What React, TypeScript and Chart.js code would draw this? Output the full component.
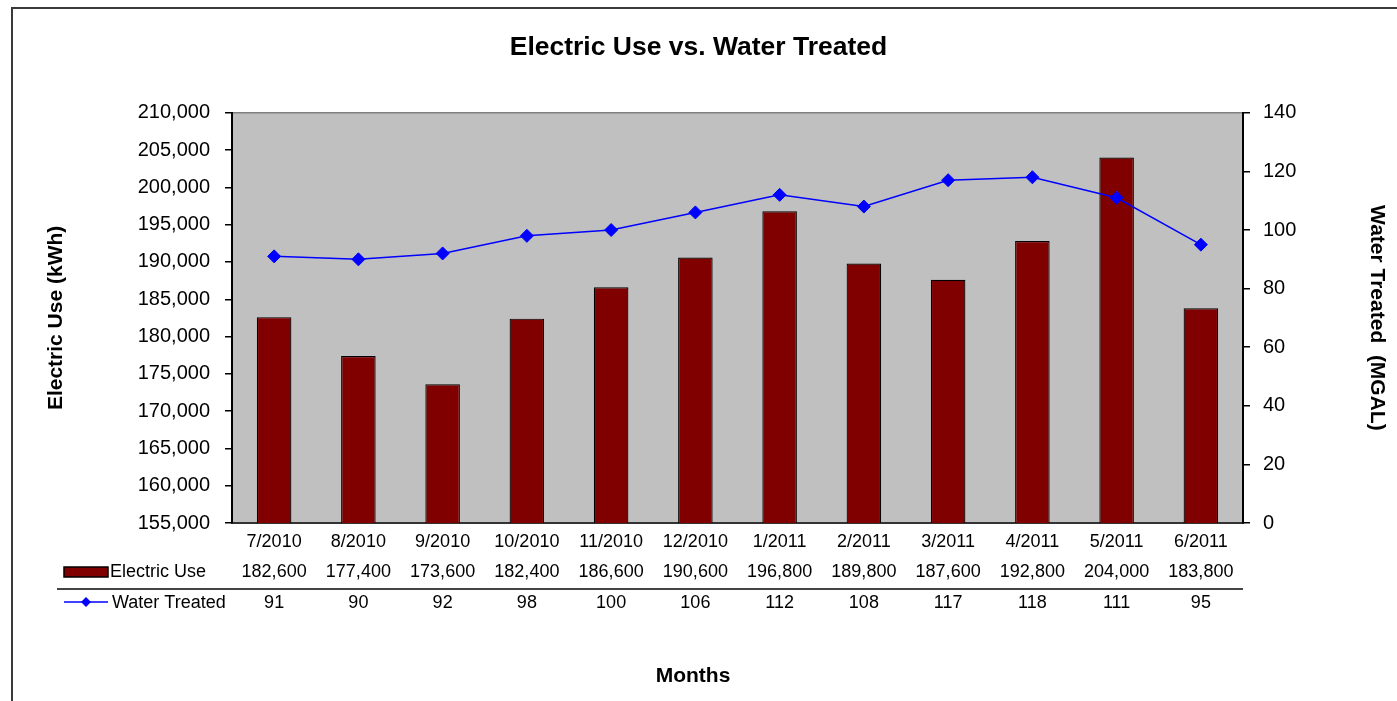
import React, { useEffect, useRef } from 'react';
import { Chart, registerables } from 'chart.js';

Chart.register(...registerables);

const months = ['7/2010', '8/2010', '9/2010', '10/2010', '11/2010', '12/2010', '1/2011', '2/2011', '3/2011', '4/2011', '5/2011', '6/2011'];
const electricUse = [182600, 177400, 173600, 182400, 186600, 190600, 196800, 189800, 187600, 192800, 204000, 183800];
const waterTreated = [91, 90, 92, 98, 100, 106, 112, 108, 117, 118, 111, 95];
const electricAxis = { min: 155000, max: 210000, step: 5000 };
const waterAxis = { min: 0, max: 140, step: 20 };
const xAxisTitle = 'Months';

const FONT = '"Liberation Sans", Arial, sans-serif';
const fmt = (v: number) => v.toLocaleString('en-US');

const framePlugin = {
  id: 'frame',
  beforeDraw(chart: any) {
    const { ctx, chartArea, width, height } = chart;
    ctx.save();
    ctx.fillStyle = '#ffffff';
    ctx.fillRect(0, 0, width, height);
    ctx.strokeStyle = '#3a3a3a';
    ctx.lineWidth = 2;
    ctx.beginPath();
    ctx.moveTo(12, height);
    ctx.lineTo(12, 8);
    ctx.lineTo(width, 8);
    ctx.stroke();
    ctx.fillStyle = '#c0c0c0';
    ctx.fillRect(chartArea.left, chartArea.top, chartArea.right - chartArea.left, chartArea.bottom - chartArea.top);
    ctx.strokeStyle = '#808080';
    ctx.lineWidth = 1.5;
    ctx.beginPath();
    ctx.moveTo(chartArea.left, chartArea.top);
    ctx.lineTo(chartArea.right, chartArea.top);
    ctx.stroke();
    ctx.restore();
  },
};

const tablePlugin = {
  id: 'dataTable',
  afterDraw(chart: any) {
    const { ctx, chartArea, scales } = chart;
    const xs = scales.x;
    const barDs = chart.data.datasets[1];
    const lineDs = chart.data.datasets[0];
    const row1 = 572;
    const row2 = 603;
    const sep = 589;
    ctx.save();
    ctx.font = `18px ${FONT}`;
    ctx.fillStyle = '#000';
    ctx.textAlign = 'center';
    ctx.textBaseline = 'middle';
    (chart.data.labels as string[]).forEach((_, i) => {
      const px = xs.getPixelForValue(i);
      ctx.fillText(fmt(barDs.data[i] as number), px, row1);
      ctx.fillText(String(lineDs.data[i]), px, row2);
    });
    // separator
    ctx.strokeStyle = '#444';
    ctx.lineWidth = 2;
    ctx.beginPath();
    ctx.moveTo(57, sep);
    ctx.lineTo(chartArea.right, sep);
    ctx.stroke();
    // legend keys
    ctx.fillStyle = '#800000';
    ctx.fillRect(64, 567, 44, 10);
    ctx.strokeStyle = '#000';
    ctx.lineWidth = 1.5;
    ctx.strokeRect(64, 567, 44, 10);
    ctx.fillStyle = '#000';
    ctx.textAlign = 'left';
    ctx.fillText(barDs.label, 110, row1);
    ctx.strokeStyle = '#0000ff';
    ctx.lineWidth = 1.5;
    ctx.beginPath();
    ctx.moveTo(64, 602);
    ctx.lineTo(108, 602);
    ctx.stroke();
    ctx.fillStyle = '#0000ff';
    ctx.beginPath();
    ctx.moveTo(86, 597);
    ctx.lineTo(91, 602);
    ctx.lineTo(86, 607);
    ctx.lineTo(81, 602);
    ctx.closePath();
    ctx.fill();
    ctx.fillStyle = '#000';
    ctx.fillText(lineDs.label, 112, row2);
    // x-axis title
    ctx.font = `bold 21px ${FONT}`;
    ctx.textAlign = 'center';
    ctx.fillText(xAxisTitle, 693, 676);
    ctx.restore();
  },
};

export default function App() {
  const ref = useRef<HTMLCanvasElement>(null);
  useEffect(() => {
    if (!ref.current) return;
    Chart.defaults.font.family = FONT;
    Chart.defaults.color = '#000';
    const chart = new Chart(ref.current, {
      type: 'bar',
      data: {
        labels: months,
        datasets: [
          {
            type: 'line',
            label: 'Water Treated',
            data: waterTreated,
            yAxisID: 'y1',
            borderColor: '#0000ff',
            backgroundColor: '#0000ff',
            borderWidth: 1.5,
            pointStyle: 'rectRot',
            pointRadius: 6.5,
            pointBorderWidth: 1,
            pointBackgroundColor: '#0000ff',
            pointBorderColor: '#0000ff',
            tension: 0,
            order: 0,
          } as any,
          {
            type: 'bar',
            label: 'Electric Use',
            data: electricUse,
            yAxisID: 'y',
            backgroundColor: '#800000',
            borderColor: '#000000',
            borderWidth: 1.2,
            barPercentage: 0.41,
            categoryPercentage: 1,
            order: 1,
          } as any,
        ],
      },
      options: {
        responsive: false,
        animation: false,
        layout: { padding: { left: 0, right: 0, top: 0, bottom: 0 } },
        plugins: {
          legend: { display: false },
          tooltip: { enabled: false },
          title: {
            display: true,
            text: 'Electric Use vs. Water Treated',
            color: '#000',
            font: { size: 26.5, weight: 'bold', family: FONT },
            padding: { top: 32, bottom: 49 },
          },
        },
        scales: {
          x: {
            grid: { display: false, drawTicks: false },
            border: { display: true, color: '#333', width: 2 },
            ticks: { font: { size: 18 }, color: '#000', padding: 8, maxRotation: 0 },
            title: { display: false },
            afterFit: (s: any) => { s.height = 178; },
          },
          y: {
            position: 'left',
            min: electricAxis.min,
            max: electricAxis.max,
            ticks: {
              stepSize: electricAxis.step,
              font: { size: 20 },
              color: '#000',
              padding: 15,
              callback: (v: any) => fmt(Number(v)),
            },
            grid: { drawOnChartArea: false, drawTicks: true, tickLength: 7, color: '#000', lineWidth: 1.5 },
            border: { display: true, color: '#000', width: 2 },
            title: {
              display: true,
              text: 'Electric Use (kWh)',
              color: '#000',
              font: { size: 21, weight: 'bold' },
              padding: { top: 44, bottom: 0 },
            },
            afterFit: (s: any) => { s.width = 232; },
          },
          y1: {
            position: 'right',
            min: waterAxis.min,
            max: waterAxis.max,
            ticks: { stepSize: waterAxis.step, font: { size: 20 }, color: '#000', padding: 13 },
            grid: { drawOnChartArea: false, drawTicks: true, tickLength: 7, color: '#000', lineWidth: 1.5 },
            border: { display: true, color: '#000', width: 2 },
            title: {
              display: true,
              text: 'Water Treated  (MGAL)',
              color: '#000',
              font: { size: 21, weight: 'bold' },
              padding: { top: 8, bottom: 0 },
            },
            afterFit: (s: any) => { s.width = 154; },
          },
        },
      } as any,
      plugins: [framePlugin, tablePlugin],
    });
    return () => chart.destroy();
  }, []);
  return (
    <div style={{ position: 'fixed', left: 0, top: 0, width: 1397, height: 701, background: '#fff' }}>
      <canvas ref={ref} width={1397} height={701} />
    </div>
  );
}
